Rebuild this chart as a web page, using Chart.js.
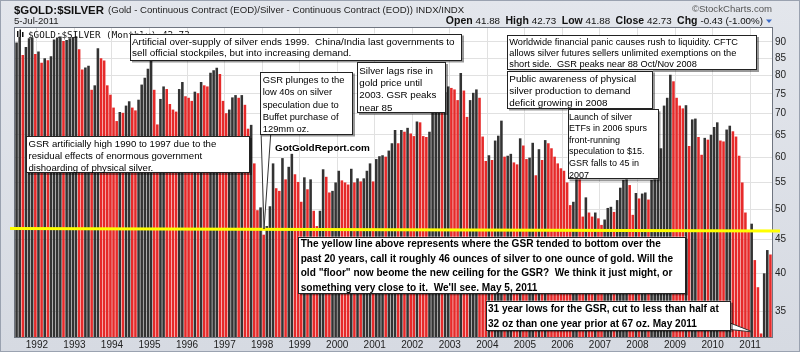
<!DOCTYPE html>
<html>
<head>
<meta charset="utf-8">
<script src="https://cdn.jsdelivr.net/npm/chart.js@4.4.1/dist/chart.umd.min.js"></script>
<style>
  html, body { margin: 0; padding: 0; background: #dde1e8; }
  #wrap { position: relative; width: 800px; height: 352px; }
</style>
</head>
<body>
<div id="wrap"><canvas id="gsrChart" width="800" height="352"></canvas></div>
<script>
// Gold / silver ratio, monthly closes, first bar = June 1991
const startYear = 1991;
const startMonth = 6;
const gsrClose = [
  // 1991
  89.8, 91.6, 86.0, 88.4, 91.2, 91.4, 86.3,
  // 1992
  87.0, 83.7, 85.0, 84.4, 85.6, 90.8, 91.4, 91.7, 90.3, 90.6, 91.2, 91.6,
  // 1993
  91.8, 87.7, 81.7, 82.3, 82.8, 76.1, 77.3, 88.0, 85.0, 84.3, 77.3, 74.8,
  // 1994
  71.5, 68.2, 70.4, 70.2, 72.0, 73.1, 71.5, 70.8, 73.5, 77.5, 79.4, 81.9,
  // 1995
  86.0, 76.1, 67.4, 73.7, 77.0, 76.3, 72.4, 71.0, 70.5, 76.3, 78.2, 74.4,
  // 1996
  74.0, 73.2, 75.6, 75.2, 78.2, 77.3, 77.0, 80.8, 81.5, 82.2, 80.4, 73.2,
  // 1997
  70.1, 71.0, 74.1, 74.7, 74.0, 74.7, 72.2, 66.4, 67.3, 58.8, 49.9, 50.4,
  // 1998
  45.8, 47.2, 50.6, 58.8, 53.9, 53.4, 59.9, 55.6, 58.1, 60.8, 56.6, 55.1,
  // 1999
  51.4, 56.0, 53.7, 55.6, 49.8, 47.2, 49.8, 57.6, 56.1, 53.1, 53.4, 55.0,
  // 2000
  57.3, 55.4, 55.0, 54.6, 57.7, 55.0, 55.8, 55.2, 55.8, 57.3, 58.8, 55.2,
  // 2001
  59.7, 60.3, 60.5, 60.2, 61.5, 63.1, 66.1, 63.1, 66.1, 65.7, 66.6, 65.3,
  // 2002
  64.7, 68.1, 67.9, 64.7, 64.5, 65.7, 71.4, 72.5, 74.0, 73.0, 75.5, 77.0,
  // 2003
  76.6, 76.2, 73.4, 80.7, 75.9, 69.2, 73.4, 75.3, 76.2, 74.0, 64.6, 59.3,
  // 2004
  60.5, 59.5, 63.7, 64.8, 68.3, 60.2, 60.4, 60.8, 59.0, 58.6, 64.2, 62.6,
  // 2005
  59.7, 60.0, 63.2, 56.4, 61.8, 59.5, 63.8, 63.1, 62.0, 60.2, 58.8, 57.8,
  // 2006
  57.3, 55.0, 50.8, 51.4, 56.5, 56.0, 48.8, 52.2, 49.5, 48.8, 49.5, 48.5,
  // 2007
  47.4, 48.3, 50.3, 50.5, 49.6, 51.7, 54.0, 55.5, 56.0, 54.5, 49.1, 53.0,
  // 2008
  52.0, 52.9, 53.1, 51.8, 55.5, 56.5, 58.0, 62.0, 72.0, 74.0, 80.2, 78.4,
  // 2009
  74.0, 72.0, 71.3, 72.1, 62.5, 68.6, 68.8, 64.5, 60.6, 64.3, 63.9, 65.0,
  // 2010
  66.8, 67.9, 63.7, 63.5, 66.2, 67.1, 65.8, 64.6, 60.4, 55.0, 49.5, 46.4,
  // 2011
  47.6, 41.9, 38.1, 32.4, 40.0, 43.4, 42.73
];
const yTicks = [35, 40, 45, 50, 55, 60, 65, 70, 75, 80, 85, 90];
const floorLine = [46.8, 46.4];   // yellow line, left end / right end
const lastBar = { date: '5-Jul-2011', open: 41.88, high: 42.73, low: 41.88, close: 42.73, chg: -0.43, chgPct: -1.00 };

const monthLabels = gsrClose.map((v, i) => {
  const m = startMonth - 1 + i;
  return (startYear + Math.floor(m / 12)) + '-' + String(m % 12 + 1).padStart(2, '0');
});

const RED = '#e62a2a';
const BLACK = '#333333';
const barColors = gsrClose.map((v, i) => (i > 0 && v < gsrClose[i - 1]) ? RED : BLACK);

const FONT = '"Liberation Sans", Arial, sans-serif';
Chart.defaults.font.family = FONT;

// annotation boxes (pixel layout)
const notes = [
  { x: 130, y: 33.5, w: 332, h: 27, tx: 132, ty: 45.2, tw: 323, lh: 11.1, lines: [
    'Artificial over-supply of silver ends 1999.  China/India last governments to',
    'sell official stockpiles, but into increasing demand.'] },
  { x: 26, y: 136, w: 224, h: 37, tx: 28.5, ty: 146.5, tw: 188, lh: 12.2, lines: [
    'GSR artificially high 1990 to 1997 due to the',
    'residual effects of enormous government',
    'dishoarding of physical silver.'] },
  { x: 260, y: 71.5, w: 93, h: 63, tx: 262.7, ty: 82.8, tw: 82, lh: 12.4, lines: [
    'GSR plunges to the', 'low 40s on silver', 'speculation due to', 'Buffet purchase of', '129mm oz.'] },
  { x: 357, y: 62, w: 89, h: 51, tx: 359.3, ty: 73.5, tw: 77, lh: 12.4, lines: [
    'Silver lags rise in', 'gold price until', '2003. GSR peaks', 'near 85'] },
  { x: 507, y: 35, w: 250, h: 35, tx: 509.3, ty: 45.2, tw: 229, lh: 10.8, lines: [
    'Worldwide financial panic causes rush to liquidity. CFTC',
    'allows silver futures sellers unlimited exemptions on the',
    'short side.  GSR peaks near 88 Oct/Nov 2008'] },
  { x: 507, y: 70.5, w: 146, h: 38, tx: 509.3, ty: 81.8, tw: 127, lh: 12.2, lines: [
    'Public awareness of physical', 'silver production to demand', 'deficit growing in 2008'] },
  { x: 567.5, y: 109.3, w: 91, h: 70, tx: 569, ty: 119.5, tw: 78, lh: 11.6, lines: [
    'Launch of silver', 'ETFs in 2006 spurs', 'front-running', 'speculation to $15.', 'GSR falls to 45 in', '2007'] },
  { x: 298, y: 236.7, w: 388, h: 56.6, tx: 300.7, ty: 247.3, tw: 373, lh: 14.4, bold: true, lines: [
    'The yellow line above represents where the GSR tended to bottom over the',
    'past 20 years, call it roughly 46 ounces of silver to one ounce of gold. Will the',
    'old "floor" now beome the new ceiling for the GSR?  We think it just might, or',
    'something very close to it.  We\'ll see. May 5, 2011'] },
  { x: 486, y: 300.7, w: 245, h: 29.5, tx: 488, ty: 312.3, tw: 231, lh: 14.4, bold: true, lines: [
    '31 year lows for the GSR, cut to less than half at',
    '32 oz than one year prior at 67 oz. May 2011'] }
];
const pointers = [
  [[261, 130], [271, 130], [264, 229]],
  [[725, 321], [725, 329], [753, 332]]
];

function fitFont(ctx, lines, width, bold, family) {
  const w = bold ? 'bold ' : '';
  ctx.font = w + '10px ' + family;
  const widest = Math.max(...lines.map(l => ctx.measureText(l).width));
  ctx.font = w + (10 * width / widest).toFixed(2) + 'px ' + family;
}

function drawNote(ctx, n) {
  ctx.fillStyle = 'rgba(0,0,0,0.4)';
  ctx.fillRect(n.x + 2, n.y + 2, n.w, n.h);
  ctx.fillStyle = '#fff';
  ctx.fillRect(n.x, n.y, n.w, n.h);
  ctx.strokeStyle = '#222';
  ctx.lineWidth = 1;
  ctx.strokeRect(Math.round(n.x) + 0.5, Math.round(n.y) + 0.5, Math.round(n.w) - 1, Math.round(n.h) - 1);
  fitFont(ctx, n.lines, n.tw, n.bold, FONT);
  ctx.fillStyle = '#000';
  ctx.textBaseline = 'alphabetic';
  ctx.textAlign = 'left';
  n.lines.forEach((l, k) => ctx.fillText(l, n.tx, n.ty + k * n.lh));
}

const panelPlugin = {
  id: 'panel',
  beforeDraw(chart) {
    const ctx = chart.ctx, a = chart.chartArea;
    ctx.save();
    const g = ctx.createLinearGradient(0, 0, 0, 352);
    g.addColorStop(0, '#e3e6ec');
    g.addColorStop(1, '#d6dae2');
    ctx.fillStyle = g;
    ctx.fillRect(0, 0, chart.width, chart.height);
    ctx.fillStyle = '#fff';
    ctx.fillRect(a.left, a.top, a.right - a.left, a.bottom - a.top);
    ctx.restore();
  },
  afterDatasetsDraw(chart) {
    const ctx = chart.ctx, a = chart.chartArea, y = chart.scales.y;
    ctx.save();

    // plot frame
    ctx.strokeStyle = '#6f7580';
    ctx.lineWidth = 1;
    ctx.strokeRect(a.left - 0.5, a.top - 0.5, a.right - a.left + 1, a.bottom - a.top + 1);

    // legend inside plot
    ctx.fillStyle = '#111';
    ctx.fillRect(17, 31, 1.5, 6);
    ctx.fillRect(19.5, 29.5, 1.5, 7.5);
    ctx.fillRect(22, 32, 1.5, 5);
    fitFont(ctx, ['$GOLD:$SILVER (Monthly) 42.73'], 162, false, '"DejaVu Sans Mono", monospace');
    ctx.textBaseline = 'alphabetic';
    ctx.fillText('$GOLD:$SILVER (Monthly) ' + lastBar.close.toFixed(2), 28, 37.5);

    // yellow floor line
    ctx.strokeStyle = '#ffff00';
    ctx.lineWidth = 3;
    ctx.beginPath();
    ctx.moveTo(10, y.getPixelForValue(floorLine[0]));
    ctx.lineTo(780, y.getPixelForValue(floorLine[1]));
    ctx.stroke();

    // callout pointers
    pointers.forEach(p => {
      ctx.beginPath();
      ctx.moveTo(p[0][0], p[0][1]);
      ctx.lineTo(p[2][0], p[2][1]);
      ctx.lineTo(p[1][0], p[1][1]);
      ctx.closePath();
      ctx.fillStyle = '#fff';
      ctx.fill();
      ctx.strokeStyle = '#333';
      ctx.lineWidth = 1;
      ctx.stroke();
    });

    notes.forEach(n => drawNote(ctx, n));

    // site credit
    fitFont(ctx, ['GotGoldReport.com'], 95, true, FONT);
    ctx.fillStyle = '#000';
    ctx.fillText('GotGoldReport.com', 275, 151);

    // header
    ctx.fillStyle = '#111';
    fitFont(ctx, ['$GOLD:$SILVER'], 90, true, FONT);
    ctx.fillText('$GOLD:$SILVER', 14, 13.5);
    ctx.font = '9.6px ' + FONT;
    ctx.fillStyle = '#222';
    ctx.fillText('(Gold - Continuous Contract (EOD)/Silver - Continuous Contract (EOD)) INDX/INDX', 108, 12.5);
    ctx.fillText(lastBar.date, 14, 23.5);
    ctx.fillStyle = '#555';
    ctx.textAlign = 'right';
    ctx.fillText('\u00a9StockCharts.com', 772, 12);
    ctx.textAlign = 'left';

    const parts = [
      ['Open ', true], [lastBar.open.toFixed(2) + '  ', false],
      ['High ', true], [lastBar.high.toFixed(2) + '  ', false],
      ['Low ', true], [lastBar.low.toFixed(2) + '  ', false],
      ['Close ', true], [lastBar.close.toFixed(2) + '  ', false],
      ['Chg ', true], [lastBar.chg.toFixed(2) + ' (' + lastBar.chgPct.toFixed(2) + '%)', false]
    ];
    const fonts = { true: 'bold 10.5px ' + FONT, false: '9.8px ' + FONT };
    let total = 0;
    parts.forEach(p => { ctx.font = fonts[p[1]]; total += ctx.measureText(p[0]).width; });
    let px = 763 - total;
    ctx.fillStyle = '#111';
    parts.forEach(p => {
      ctx.font = fonts[p[1]];
      ctx.fillText(p[0], px, 24);
      px += ctx.measureText(p[0]).width;
    });
    ctx.fillStyle = '#3a6ac8';
    ctx.beginPath();
    ctx.moveTo(766, 19.5); ctx.lineTo(772, 19.5); ctx.lineTo(769, 23);
    ctx.closePath();
    ctx.fill();

    // outer frame
    ctx.strokeStyle = '#9aa2b0';
    ctx.strokeRect(0.5, 0.5, chart.width - 1, chart.height - 1);
    ctx.restore();
  }
};

const ctx = document.getElementById('gsrChart').getContext('2d');
const gsrChart = new Chart(ctx, {
  type: 'bar',
  data: {
    labels: monthLabels,
    datasets: [{
      label: '$GOLD:$SILVER',
      data: gsrClose,
      backgroundColor: barColors,
      borderWidth: 0,
      barPercentage: 0.82,
      categoryPercentage: 1.0
    }]
  },
  options: {
    responsive: false,
    animation: false,
    devicePixelRatio: 1,
    layout: { padding: { left: 15, top: 28, right: 0, bottom: 0 } },
    plugins: { legend: { display: false }, tooltip: { enabled: false } },
    scales: {
      x: {
        type: 'category',
        offset: true,
        grid: {
          offset: true,
          drawTicks: false,
          color: c => (monthLabels[c.index] || '').endsWith('-01') ? '#e1e1e1' : 'rgba(0,0,0,0)'
        },
        border: { display: false },
        ticks: {
          autoSkip: false,
          maxRotation: 0,
          padding: 2,
          labelOffset: -1.56,
          color: '#222',
          font: { size: 10 },
          callback: (v, i) => monthLabels[i].endsWith('-01') ? monthLabels[i].slice(0, 4) : ''
        },
        afterFit: s => { s.height = 15; }
      },
      y: {
        type: 'logarithmic',
        position: 'right',
        min: 32,
        max: 94.5,
        grid: { color: '#e1e1e1', drawTicks: false },
        border: { display: false },
        ticks: { padding: 3, color: '#222', font: { size: 10 }, callback: v => String(v) },
        afterBuildTicks: s => { s.ticks = yTicks.map(v => ({ value: v })); },
        afterFit: s => { s.width = 28; }
      }
    }
  },
  plugins: [panelPlugin]
});
</script>
</body>
</html>
